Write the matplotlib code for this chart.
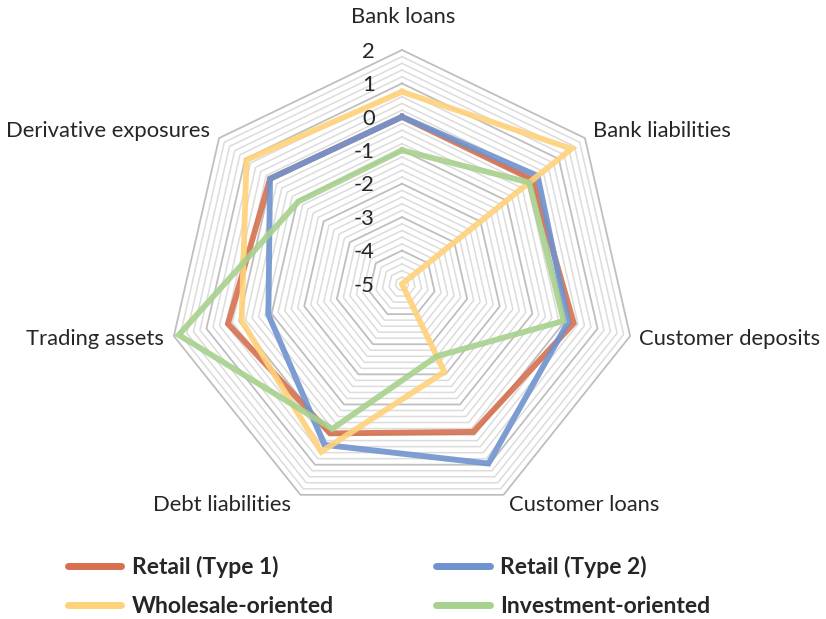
import numpy as np
import matplotlib
matplotlib.use("Agg")
import matplotlib.pyplot as plt

plt.rcParams["font.family"] = ["Lato", "DejaVu Sans"]

# Radar chart of bank business-model profiles (standardised scores)
categories = ["Bank loans", "Bank liabilities", "Customer deposits", "Customer loans",
              "Debt liabilities", "Trading assets", "Derivative exposures"]
retail_type1 = [0.0, 0.0, 0.27, -0.09, -0.04, 0.34, 0.05]
retail_type2 = [0.0, 0.19, 0.10, 0.96, 0.34, -0.90, 0.05]
wholesale = [0.75, 1.49, -5.0, -2.08, 0.57, -0.08, 0.95]
investment = [-1.0, -0.13, -0.04, -2.60, -0.19, 1.85, -1.04]

series_names = ["Retail (Type 1)", "Retail (Type 2)", "Wholesale-oriented", "Investment-oriented"]
series_colors = ["#D6704F", "#6F93CF", "#FFD27A", "#A8D18D"]
tick_values = [2, 1, 0, -1, -2, -3, -4, -5]

r_min, r_max = -5, 2

fig = plt.figure(figsize=(8.26, 6.19), dpi=100)
W, H = 826, 619
cx, cy, R = 402, 284, 234
ax = fig.add_axes([(cx - R) / W, 1 - (cy + R) / H, 2 * R / W, 2 * R / H], projection="polar")
ax.set_theta_offset(np.pi / 2)
ax.set_theta_direction(-1)
ax.set_ylim(r_min, r_max)
ax.grid(False)
ax.spines["polar"].set_visible(False)
ax.set_xticks([])
ax.set_yticks([])
ax.patch.set_alpha(0)

n = len(categories)
angles = np.linspace(0, 2 * np.pi, n, endpoint=False)
closed = np.append(angles, angles[0])

# heptagonal gridlines: major every 1, minor every 0.2
for level in np.arange(r_min, r_max + 0.001, 0.2):
    level = round(level, 1)
    if level == r_min:
        continue
    major = abs(level - round(level)) < 1e-6
    ax.plot(closed, [level] * (n + 1), color="#BFBFBF" if major else "#DCDCDC",
            lw=1.3 if major else 1.1, zorder=1, clip_on=False)

# value labels along the first spoke
for v in tick_values:
    ax.annotate(str(v), xy=(0, v), xytext=(-19.5, -1.2),
                textcoords="offset points", ha="right", va="center",
                fontsize=15.8, color="#262626", annotation_clip=False)

data = [retail_type1, retail_type2, wholesale, investment]
lines = []
for vals, name, col in zip(data, series_names, series_colors):
    v = np.append(vals, vals[0])
    ln, = ax.plot(closed, v, color=col, lw=4.2, alpha=0.9, label=name,
                  solid_joinstyle="miter", zorder=3, clip_on=False)
    lines.append(ln)

# category labels around the chart
label_pos = [
    (403, 17, "center"),
    (593, 131, "left"),
    (639, 339, "left"),
    (584, 505, "center"),
    (222, 505, "center"),
    (164, 339, "right"),
    (210, 131, "right"),
]
for name, (x, y, ha) in zip(categories, label_pos):
    fig.text(x / W, 1 - y / H, name, ha=ha, va="center", fontsize=15.8, color="#262626")

# legend entries laid out row by row
order = [0, 2, 1, 3]
leg = fig.legend([lines[i] for i in order], [series_names[i] for i in order],
                 ncol=2, loc="upper left",
                 bbox_to_anchor=(47 / W, 1 - 535 / H), frameon=False,
                 prop={"weight": "bold", "size": 16.5}, handlelength=2.35,
                 handletextpad=0.45, columnspacing=4.45, labelspacing=0.8)
for t in leg.get_texts():
    t.set_color("#262626")
for h in leg.legend_handles:
    h.set_linewidth(5)
    h.set_alpha(1)
    h.set_solid_capstyle("round")

fig.savefig("out.png", dpi=100)
